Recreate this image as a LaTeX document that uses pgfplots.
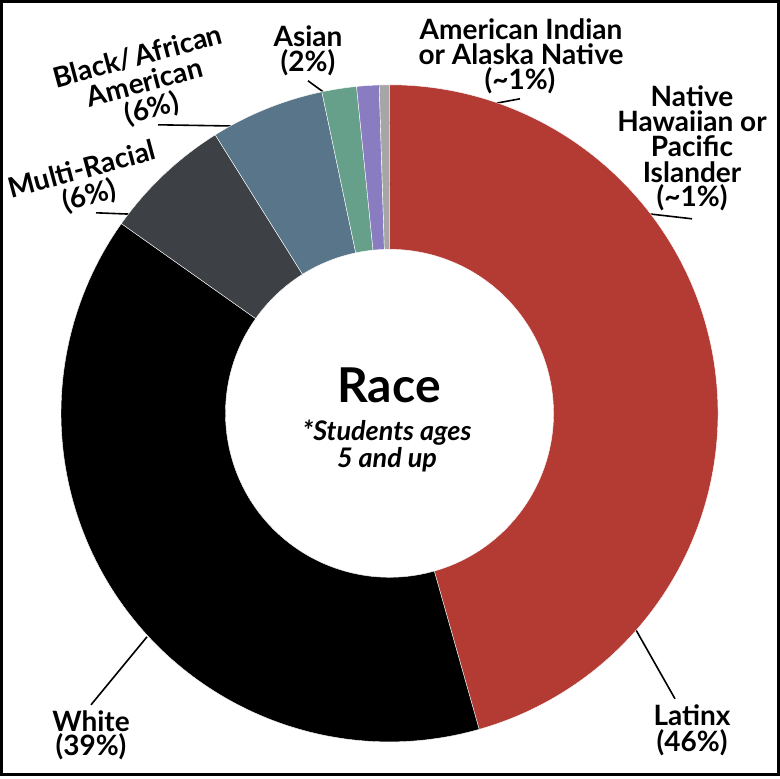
\documentclass[border=0pt]{standalone}
\usepackage{fontspec}
\setmainfont{Lato}
\usepackage{pgfplots}
\usepackage{pgfplotstable}
\pgfplotsset{compat=1.18}

\definecolor{clatinx}{RGB}{179,59,52}
\definecolor{cwhite}{RGB}{0,0,0}
\definecolor{cmulti}{RGB}{61,65,70}
\definecolor{cblack}{RGB}{88,117,137}
\definecolor{casian}{RGB}{102,160,138}
\definecolor{caian}{RGB}{138,124,193}
\definecolor{cnhpi}{RGB}{166,166,166}

% slices clockwise from the top: share (%) and cumulative start (%)
\pgfplotstableread{
name   cx    cy    start  share
Latinx 389.5 413.5 0.0    45.6
White  389.5 413.5 45.6   39.2
Multi  389.5 413.5 84.8   6.3
Black  389.5 413.5 91.1   5.6
Asian  389.5 413.5 96.7   1.7
AIAN   389.5 413.5 98.4   1.1
NHPI   389.5 413.5 99.5   0.5
}\racedata

\pgfdeclareplotmark{donutslice}{%
  \pgfpathmoveto{\pgfqpointpolar{\aS}{328.5bp}}%
  \pgfpatharc{\aS}{\aE}{328.5bp}%
  \pgflineto{\pgfqpointpolar{\aE}{164bp}}%
  \pgfpatharc{\aE}{\aS}{164bp}%
  \pgfpathclose
  \pgfusepathqfillstroke
}

\begin{document}
\begin{tikzpicture}[
  lab/.style={font=\fontsize{28bp}{27bp}\selectfont\bfseries, inner sep=0pt}]
\begin{axis}[
  scale only axis, width=780bp, height=776bp,
  xmin=0, xmax=780, ymin=0, ymax=776, y dir=reverse,
  hide axis, clip=false]
\addplot[scatter, only marks, mark=donutslice,
  scatter src=explicit symbolic,
  scatter/classes={
    Latinx={fill=clatinx, draw=white, line width=0.4bp},
    White={fill=cwhite, draw=white, line width=0.4bp},
    Multi={fill=cmulti, draw=white, line width=0.4bp},
    Black={fill=cblack, draw=white, line width=0.4bp},
    Asian={fill=casian, draw=white, line width=0.4bp},
    AIAN={fill=caian, draw=white, line width=0.4bp},
    NHPI={fill=cnhpi, draw=white, line width=0.4bp}},
  visualization depends on={90-3.6*\thisrow{start} \as \aS},
  visualization depends on={90-3.6*(\thisrow{start}+\thisrow{share}) \as \aE}]
  table[x=cx, y=cy, meta=name] {\racedata};

% frame and bounding box
\draw[line width=2.6bp] (axis cs:1.3,1.5) rectangle (axis cs:778.7,774.7);

% leader lines
\begin{scope}[line width=1.6bp]
\draw (axis cs:369,127) -- (axis cs:520,99);
\draw (axis cs:308,81) -- (axis cs:345,108);
\draw (axis cs:158,125) -- (axis cs:282,127);
\draw (axis cs:96,213) -- (axis cs:198,217);
\draw (axis cs:388,184) -- (axis cs:692,219);
\draw (axis cs:147,637) -- (axis cs:91,705);
\draw (axis cs:624,609) -- (axis cs:675,699);
\end{scope}

% labels
\node[lab, anchor=base] at (axis cs:521,40) {American Indian};
\node[lab, anchor=base] at (axis cs:521,65) {or Alaska Native};
\node[lab, anchor=base] at (axis cs:520,90) {(\textasciitilde1\%)};
\node[lab, anchor=base] at (axis cs:308,47) {Asian};
\node[lab, anchor=base] at (axis cs:308,72) {(2\%)};
\node[lab, anchor=base] at (axis cs:692,107) {Native};
\node[lab, anchor=base] at (axis cs:692,132) {Hawaiian or};
\node[lab, anchor=base] at (axis cs:692,157) {Pacific};
\node[lab, anchor=base] at (axis cs:692,183) {Islander};
\node[lab, anchor=base] at (axis cs:692,207) {(\textasciitilde1\%)};
\node[lab, anchor=base] at (axis cs:91,732) {White};
\node[lab, anchor=base] at (axis cs:91,756) {(39\%)};
\node[lab, anchor=base] at (axis cs:692,726) {Latinx};
\node[lab, anchor=base] at (axis cs:692,752) {(46\%)};
\node[lab, align=center, rotate=15] at (axis cs:145,84) {Black/\hspace{0.1em}African\\American\\(6\%)};
\node[lab, align=center, rotate=15] at (axis cs:86,184) {Multi-Racial\\(6\%)};

% centre text
\node[inner sep=0pt, anchor=base, font=\fontsize{48bp}{48bp}\selectfont\bfseries] at (axis cs:389,403) {Race};
\node[inner sep=0pt, anchor=base, font=\fontsize{27bp}{27bp}\selectfont\bfseries\itshape] at (axis cs:387,441) {*Students ages};
\node[inner sep=0pt, anchor=base, font=\fontsize{27bp}{27bp}\selectfont\bfseries\itshape] at (axis cs:387,468) {5 and up};
\end{axis}
\end{tikzpicture}
\end{document}
